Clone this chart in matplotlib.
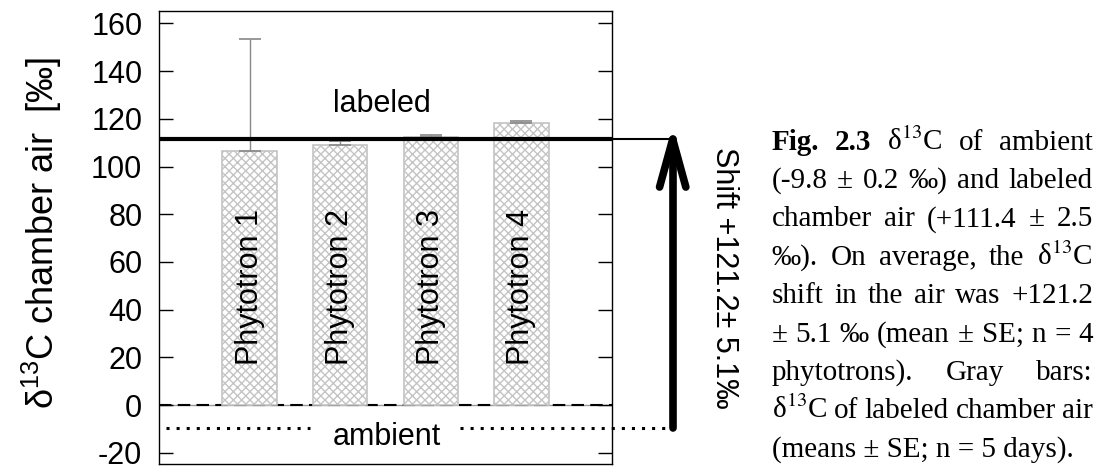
import matplotlib
matplotlib.use("Agg")
import matplotlib.pyplot as plt

# ---------------- data ----------------
phytotrons = ["Phytotron 1", "Phytotron 2", "Phytotron 3", "Phytotron 4"]
bar_means = [106.5, 109.0, 112.5, 118.4]
bar_se = [46.8, 1.8, 0.7, 0.8]
labeled_mean = 111.4
ambient_mean = -9.8
yticks = [-20, 0, 20, 40, 60, 80, 100, 120, 140, 160]
ylabel = r"δ$^{13}$C chamber air  [‰]"
shift_text = "Shift +121.2± 5.1‰"

# caption lines: list of (word, bold)
caption_lines = [
    [("Fig.", True), ("2.3", True), (r"δ$^{13}$C", False), ("of", False), ("ambient", False)],
    [("(-9.8", False), ("±", False), ("0.2", False), ("‰)", False), ("and", False), ("labeled", False)],
    [("chamber", False), ("air", False), ("(+111.4", False), ("±", False), ("2.5", False)],
    [("‰).", False), ("On", False), ("average,", False), ("the", False), (r"δ$^{13}$C", False)],
    [("shift", False), ("in", False), ("the", False), ("air", False), ("was", False), ("+121.2", False)],
    [("±", False), ("5.1", False), ("‰", False), ("(mean", False), ("±", False), ("SE;", False), ("n", False), ("=", False), ("4", False)],
    [("phytotrons).", False), ("Gray", False), ("bars:", False)],
    [(r"δ$^{13}$C", False), ("of", False), ("labeled", False), ("chamber", False), ("air", False)],
    [("(means ± SE; n = 5 days).", False)],
]

W, H = 1106, 468
plt.rcParams["font.family"] = ["Liberation Sans", "DejaVu Sans"]
plt.rcParams["mathtext.fontset"] = "custom"
plt.rcParams["mathtext.rm"] = "Liberation Sans"
plt.rcParams["axes.unicode_minus"] = False
plt.rcParams["hatch.color"] = "#c4c4c4"

fig = plt.figure(figsize=(W / 100, H / 100), dpi=100)
ax = fig.add_axes([159 / W, 1 - 464 / H, (612 - 159) / W, (464 - 11) / H])

x = [1, 2, 3, 4]
ax.axhline(0, color="#999999", lw=1.0, zorder=1)
ax.axhline(0, color="black", lw=1.5, ls=(0, (6, 3)), zorder=1.1)

ax.bar(x, bar_means, width=0.6, color="white", edgecolor="#c4c4c4",
       hatch="xxxx", lw=1.2, zorder=2)
ax.errorbar(x, bar_means, yerr=[[0] * 4, bar_se], fmt="none", ecolor="#888888",
            elinewidth=1.0, capsize=8, capthick=1.2, zorder=3)

for xi, name in zip(x, phytotrons):
    ax.text(xi, 49.5, name, rotation=90, ha="center", va="center", fontsize=22, zorder=4)

arrow_x = 5.67
# labeled line
ax.plot([0, 5], [labeled_mean, labeled_mean], color="black", lw=3, zorder=5,
        clip_on=False, solid_capstyle="butt")
ax.plot([5, arrow_x], [labeled_mean, labeled_mean], color="black", lw=1.5, zorder=5,
        clip_on=False, solid_capstyle="butt")
# ambient dotted line (gap around the "ambient" label)
ax.plot([0.08, 1.667], [ambient_mean, ambient_mean], color="black", lw=2.2,
        ls=(0, (1, 2.3)), zorder=5, clip_on=False)
ax.plot([3.32, arrow_x], [ambient_mean, ambient_mean], color="black", lw=2.2,
        ls=(0, (1, 2.3)), zorder=5, clip_on=False)
# arrow
ax.plot([arrow_x, arrow_x], [ambient_mean, labeled_mean], color="black", lw=5.5,
        solid_capstyle="round", zorder=6, clip_on=False)
ax.plot([arrow_x - 0.145, arrow_x, arrow_x + 0.145],
        [labeled_mean - 20, labeled_mean, labeled_mean - 20], color="black", lw=5.5,
        solid_capstyle="round", solid_joinstyle="round", zorder=6, clip_on=False)

ax.text(2.46, 123, "labeled", ha="center", va="baseline", fontsize=22, zorder=7)
ax.text(2.51, -16.8, "ambient", ha="center", va="baseline", fontsize=22, zorder=7)
ax.text(6.24, 53.2, shift_text, rotation=-90, ha="center", va="center",
        fontsize=22, clip_on=False)

ax.set_xlim(0, 5)
ax.set_ylim(-24.7, 165.2)
ax.set_xticks([])
ax.set_yticks(yticks)
ax.tick_params(axis="y", direction="in", length=10, width=1, left=True, right=True,
               labelsize=22, pad=12)
for s in ax.spines.values():
    s.set_linewidth(1.0)
fig.text(42 / W, 1 - 232.5 / H, ylabel, rotation=90, ha="center", va="center", fontsize=26)

# caption (justified)
renderer = fig.canvas.get_renderer()
cap_left, cap_right = 771.5, 1093.0
base0, dy = 149.5, 38.4
cfs = 21
for i, line in enumerate(caption_lines):
    yb = 1 - (base0 + i * dy) / H
    texts = []
    for word, bold in line:
        t = fig.text(0, yb, word, fontsize=cfs, family=["Liberation Serif", "DejaVu Serif"],
                     weight="bold" if bold else "normal", va="baseline", ha="left",
                     math_fontfamily="stix")
        texts.append(t)
    widths = [t.get_window_extent(renderer).width for t in texts]
    if i == len(caption_lines) - 1 or len(texts) == 1:
        gap = 0
    else:
        gap = (cap_right - cap_left - sum(widths)) / (len(texts) - 1)
    xp = cap_left
    for t, w in zip(texts, widths):
        t.set_x(xp / W)
        xp += w + gap

fig.savefig("out.png", dpi=100)
